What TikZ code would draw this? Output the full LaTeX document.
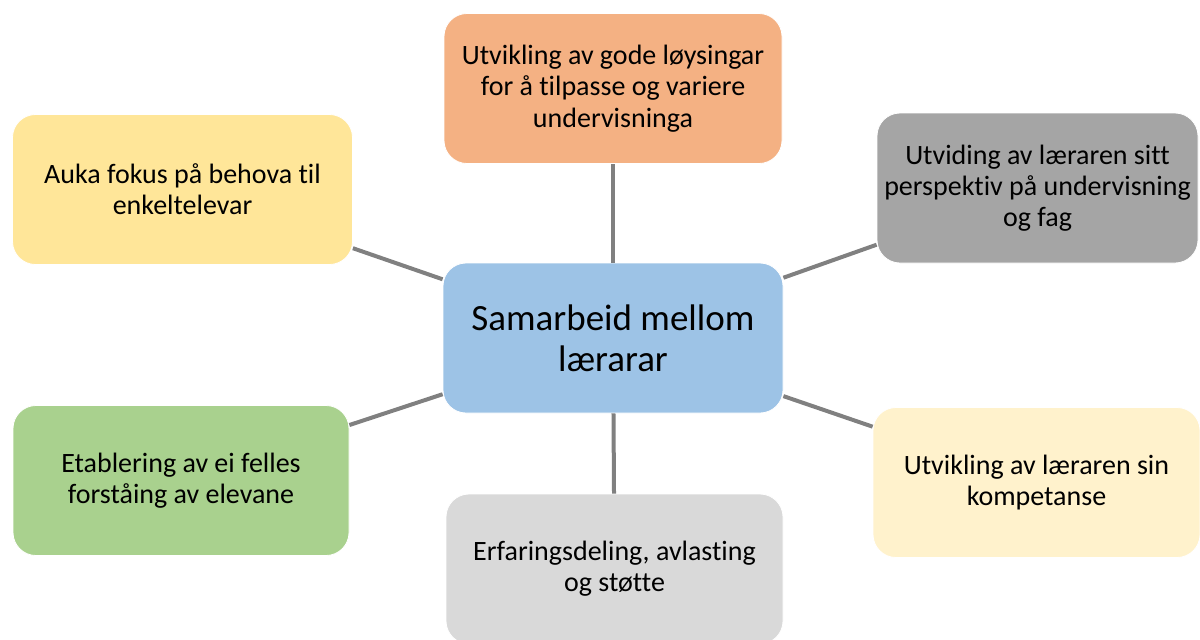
\documentclass[tikz,border=0pt]{standalone}
\usepackage{fontspec}
\setmainfont{Carlito}[Ligatures=NoCommon]
\usepackage{xcolor}
\usetikzlibrary{positioning}
\definecolor{centreblue}{HTML}{9DC3E6}
\definecolor{boxorange}{HTML}{F4B183}
\definecolor{boxyellow}{HTML}{FFE699}
\definecolor{boxgrey}{HTML}{A5A5A5}
\definecolor{boxgreen}{HTML}{A9D18E}
\definecolor{boxcream}{HTML}{FFF2CC}
\definecolor{boxlight}{HTML}{D9D9D9}
\definecolor{linkgrey}{HTML}{808080}

\begin{document}
\begin{tikzpicture}[x=0.5pt,y=-0.5pt,
                    box/.style={rounded corners=11.5pt,draw=white,line width=0.4pt,align=center,
                    inner sep=0pt,minimum height=75pt,font=\fontsize{14}{15.6}\selectfont},
                    link/.style={draw=linkgrey,line width=2pt}]

\clip (0,0) rectangle (1200,639);

%DRAWING BOXES
  \node[box,fill=centreblue,minimum width=170pt,font=\fontsize{18.5}{20.6}\selectfont] (Centre) at (613,338)
    {Samarbeid mellom\\lærarar};
  \node[box,fill=boxorange,minimum width=169pt] (Top) [shift={(0,-249.5)}] at (Centre)
    {Utvikling av gode løysingar\\for å tilpasse og variere\\undervisninga};
  \node[box,fill=boxyellow,minimum width=170pt] (TopLeft) [shift={(-430.5,-148.5)}] at (Centre)
    {Auka fokus på behova til\\enkeltelevar};
  \node[box,fill=boxgrey,minimum width=160.5pt] (TopRight) [shift={(424.5,-150)}] at (Centre)
    {Utviding av læraren sitt\\perspektiv på undervisning\\og fag};
  \node[box,fill=boxgreen,minimum width=168pt] (BottomLeft) [shift={(-432,142.5)}] at (Centre)
    {Etablering av ei felles\\forståing av elevane};
  \node[box,fill=boxcream,minimum width=163.5pt] (BottomRight) [shift={(423.5,144.5)}] at (Centre)
    {Utvikling av læraren sin\\kompetanse};
  \node[box,fill=boxlight,minimum width=168.5pt] (Bottom) [shift={(1.5,231)}] at (Centre)
    {Erfaringsdeling, avlasting\\og støtte};

%DRAWING LINKS
  \path (Centre) edge[link] (Top)
                 edge[link] (TopLeft)
                 edge[link] (TopRight)
                 edge[link] (BottomLeft)
                 edge[link] (BottomRight)
                 edge[link] (Bottom);

\end{tikzpicture}
\end{document}
